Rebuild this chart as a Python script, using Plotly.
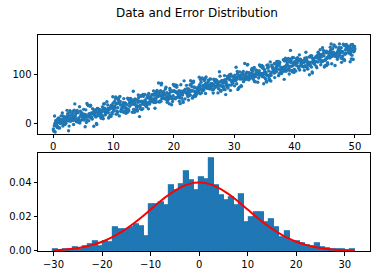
import numpy as np
import plotly.graph_objects as go

# ---------------- data ----------------
title_text = "Data and Error Distribution"

# histogram of errors (density), 60 bins from -30.1 to 32.1
bin_start = -30.1
bin_end = 32.1
density = [0.0007, 0.0005, 0.0010, 0.0010, 0.0019, 0.0010, 0.0029, 0.0039,
           0.0058, 0.0025, 0.0058, 0.0052, 0.0140, 0.0128, 0.0124, 0.0140,
           0.0155, 0.0145, 0.0087, 0.0272, 0.0272, 0.0286, 0.0266, 0.0381,
           0.0352, 0.0387, 0.0467, 0.0410, 0.0352, 0.0427, 0.0416, 0.0542,
           0.0381, 0.0324, 0.0295, 0.0312, 0.0266, 0.0330, 0.0169, 0.0197,
           0.0226, 0.0226, 0.0169, 0.0186, 0.0138, 0.0082, 0.0117, 0.0054,
           0.0054, 0.0042, 0.0033, 0.0027, 0.0042, 0.0019, 0.0013, 0.0010,
           0.0010, 0.0010, 0.0005, 0.0010]

# red reference curve (read at every 2 units)
curve_x = [-30, -28, -26, -24, -22, -20, -18, -16, -14, -12, -10, -8, -6, -4, -2,
           0, 2, 4, 6, 8, 10, 12, 14, 16, 18, 20, 22, 24, 26, 28, 30, 32]
curve_y = [0.00044, 0.00079, 0.00136, 0.00224, 0.00355, 0.0054, 0.0079, 0.0111,
           0.0150, 0.0194, 0.0242, 0.0290, 0.0333, 0.0368, 0.0391,
           0.0399, 0.0391, 0.0368, 0.0333, 0.0290, 0.0242, 0.0194, 0.0150,
           0.0111, 0.0079, 0.0054, 0.00355, 0.00224, 0.00136, 0.00079,
           0.00044, 0.00024]

# scatter: x range, trend read from the cloud, sample size
scatter_x_min = 0.0
scatter_x_max = 50.0
trend_slope = 3.0
trend_intercept = 0.0
sample_size = 1000

top_x_ticks = [0, 10, 20, 30, 40, 50]
top_y_ticks = [0, 100]
bottom_x_ticks = [-30, -20, -10, 0, 10, 20, 30]
bottom_y_ticks = [0.0, 0.02, 0.04]
bottom_y_labels = ["0.00", "0.02", "0.04"]

# ---------------- build marks ----------------
n_bins = len(density)
edges = np.linspace(bin_start, bin_end, n_bins + 1)
bin_width = edges[1] - edges[0]
centers = (edges[:-1] + edges[1:]) / 2

# the scatter residuals are the errors counted in the histogram
counts = np.rint(np.array(density) * sample_size * bin_width).astype(int)
residuals = np.repeat(centers, counts)
n_pts = len(residuals)

# deterministic interleaving of the sorted residuals along x
# (powers of a primitive root modulo a prime give a permutation)
prime, root = 1019, 128
seq = []
v = 1
for _ in range(prime - 1):
    if v - 1 < n_pts:
        seq.append(v - 1)
    v = (v * root) % prime
order = np.array(seq)

scatter_x = np.linspace(scatter_x_min, scatter_x_max, n_pts)
scatter_y = trend_intercept + trend_slope * scatter_x + residuals[order]

blue = "#1f77b4"
font = "DejaVu Sans"

fig = go.Figure()
fig.add_trace(go.Scatter(x=scatter_x, y=scatter_y, mode="markers",
                         marker=dict(color=blue, size=3.4, line=dict(width=0)),
                         xaxis="x", yaxis="y", showlegend=False))
fig.add_trace(go.Bar(x=centers, y=density, width=bin_width,
                     marker=dict(color=blue, line=dict(width=1.2, color=blue)),
                     xaxis="x2", yaxis="y2", showlegend=False))
fig.add_trace(go.Scatter(x=curve_x, y=curve_y, mode="lines",
                         line=dict(color="#ff0000", width=2, shape="spline"),
                         xaxis="x2", yaxis="y2", showlegend=False))

axis_style = dict(showline=True, mirror=True, linecolor="black", linewidth=1,
                  ticks="outside", ticklen=3.5, tickwidth=1, tickcolor="black",
                  showgrid=False, zeroline=False,
                  tickfont=dict(family=font, size=10, color="black"))

fig.update_layout(
    width=378, height=277,
    margin=dict(l=38, r=7, t=35, b=24),
    paper_bgcolor="white", plot_bgcolor="white",
    font=dict(family=font, size=10, color="black"),
    bargap=0,
    xaxis=dict(domain=[0, 1], anchor="y", range=[-2.5, 52.5],
               tickvals=top_x_ticks, **axis_style),
    yaxis=dict(domain=[0.542, 1], anchor="x", range=[-21, 181],
               tickvals=top_y_ticks, **axis_style),
    xaxis2=dict(domain=[0, 1], anchor="y2", range=[-33.2, 35.2],
                tickvals=bottom_x_ticks, **axis_style),
    yaxis2=dict(domain=[0, 0.452], anchor="x2", range=[0, 0.0569],
                tickvals=bottom_y_ticks, ticktext=bottom_y_labels, **axis_style),
    annotations=[dict(text=title_text, xref="paper", yref="paper",
                      x=0.48, y=1.102, xanchor="center", yanchor="middle",
                      showarrow=False, font=dict(family=font, size=12, color="black"))],
)

fig.write_html("out.html")
